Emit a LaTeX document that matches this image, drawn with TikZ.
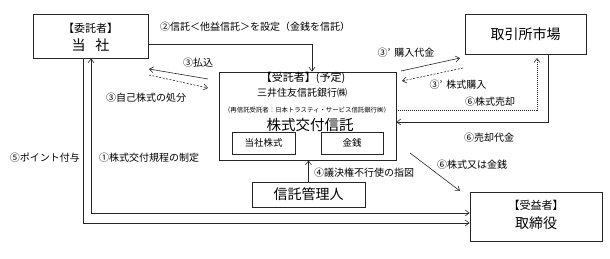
\documentclass[tikz,border=0pt]{standalone}
\usepackage{fontspec}
\setmainfont{Noto Sans CJK JP}
\usetikzlibrary{arrows.meta,calc,positioning}

\begin{document}
\begin{tikzpicture}[x=1pt,y=-1pt,
>={Straight Barb[length=4pt,width=6pt]},
every node/.style={inner sep=0pt},
box/.style={draw=black!85,line width=0.8pt,rectangle},
con/.style={draw=black!85,line width=0.6pt},
lab/.style={font=\fontsize{10}{12}\selectfont}]
\useasboundingbox (0,0) rectangle (610,259);
% boxes
\node[box,minimum width=115,minimum height=44] (itaku) at (90.5,36) {};
\node[font=\fontsize{11}{13}\selectfont] (itakuT) at (90.5,28) {【委託者】};
\node[font=\fontsize{14}{16}\selectfont] (itakuN) at (90.5,45) {当\hspace{10pt}社};
\node[box,minimum width=121,minimum height=40,font=\fontsize{14}{16}\selectfont] (torihiki) at (525.5,34) {取引所市場};
\node[box,minimum width=177,minimum height=88] (jutaku) at (307.5,116) {};
\node[font=\fontsize{11}{13}\selectfont] (jutakuT) at (303,78) {【受託者】(予定)};
\node[font=\fontsize{10}{12}\selectfont] (bank) at (302,93) {三井住友信託銀行㈱};
\node[font=\fontsize{6.4}{8}\selectfont] (rebank) at (307,110) {（再信託受託者：日本トラスティ・サービス信託銀行㈱）};
\node[font=\fontsize{14.5}{17}\selectfont] (trust) at (310,125) {株式交付信託};
\node[box,minimum width=63,minimum height=22,font=\fontsize{9.5}{11}\selectfont] (kabu) at (263.5,143) {当社株式};
\node[box,minimum width=62,minimum height=22,font=\fontsize{9.5}{11}\selectfont] (kinsen) at (352,143) {金銭};
\node[box,minimum width=113,minimum height=25,font=\fontsize{14}{16}\selectfont] (kanri) at (308.5,194.5) {信託管理人};
\node[box,minimum width=132,minimum height=49] (juueki) at (536,216.5) {};
\node[font=\fontsize{11}{13}\selectfont] (juuekiT) at (536,205) {【受益者】};
\node[font=\fontsize{14}{16}\selectfont] (juuekiN) at (536,223) {取締役};
% free ends of the slanted arrows
\coordinate (pay1) at (208,79);
\coordinate (pay2) at (149,69);
\coordinate (own1) at (149,75);
\coordinate (own2) at (208,88);
\coordinate (buy1) at (401,71);
\coordinate (buy2) at (460,58);
\coordinate (get1) at (463,68);
\coordinate (get2) at (402,81);
\coordinate (give1) at (410,153);
\coordinate (give2) at (460,191);
\coordinate (sell) at (537,58);
% connectors
\draw[con,->] ($(itaku.east)+(0,8)$) -| ($(jutaku.north)+(4.5,0)$);
\draw[con,->] (pay1) -- (pay2);
\draw[con,->,dash pattern=on 2pt off 1.5pt] (own1) -- (own2);
\draw[con,->] (buy1) -- (buy2);
\draw[con,->,dash pattern=on 2pt off 1.5pt] (get1) -- (get2);
\draw[con,->,dash pattern=on 1pt off 1pt] ($(jutaku.east)+(0,-6)$) -| (sell);
\draw[con,->] ($(torihiki.south)+(22.5,0)$) |- ($(jutaku.east)+(0,6)$);
\draw[con,->] (give1) -- (give2);
\draw[con,->] (kanri.north) -- (kanri.north |- jutaku.south);
\draw[con,<->] ($(itaku.south)+(0.5,0)$) |- ($(juueki.west)+(0,-3.5)$);
\draw[con,->] ($(itaku.south)+(-7.5,0)$) |- ($(juueki.west)+(0,6.5)$);
% labels
\node[lab,anchor=west] (l2) at (160,27) {②信託＜他益信託＞を設定（金銭を信託）};
\node[lab] (l3a) at (198,63) {③払込};
\node[lab] (l3b) at (146,98) {③自己株式の処分};
\node[lab] (l3c) at (406,53) {③’\hspace{4pt}購入代金};
\node[lab] (l3d) at (458,85) {③’\hspace{4pt}株式購入};
\node[lab] (l6a) at (490,102) {⑥株式売却};
\node[lab] (l6b) at (489,138) {⑥売却代金};
\node[lab] (l6c) at (472,165) {⑥株式又は金銭};
\node[lab,anchor=west] (l4) at (314,173) {④議決権不行使の指図};
\node[lab,anchor=east] (l5) at (80,158) {⑤ポイント付与};
\node[lab,anchor=west] (l1) at (99,158) {①株式交付規程の制定};
\end{tikzpicture}
\end{document}
